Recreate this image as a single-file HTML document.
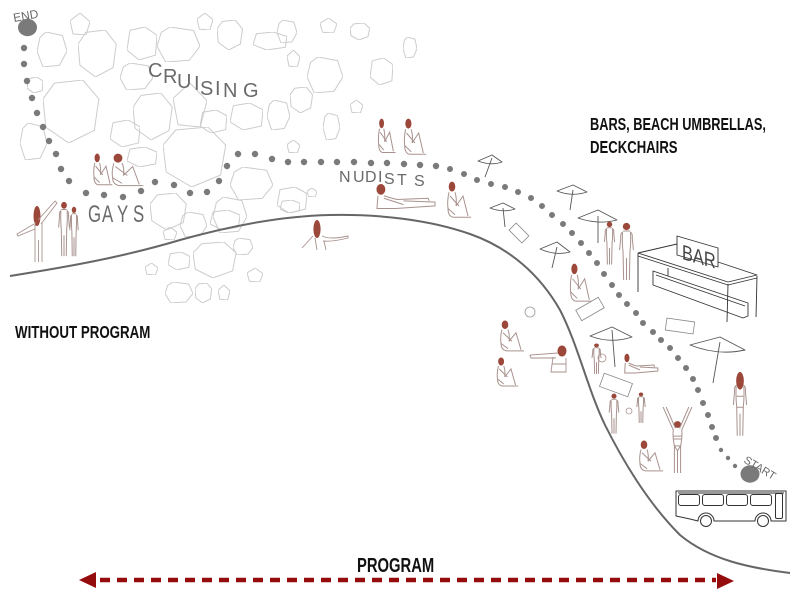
<!DOCTYPE html>
<html><head><meta charset="utf-8"><style>
html,body{margin:0;padding:0;background:#fff;}
svg{display:block;}
</style></head><body>
<svg width="800" height="600" viewBox="0 0 800 600" xmlns="http://www.w3.org/2000/svg">
<defs>
<symbol id="r1" viewBox="0 0 100 100" preserveAspectRatio="none"><path vector-effect="non-scaling-stroke" d="M20 5 L70 0 L98 30 L90 80 L45 100 L5 75 L0 30 Z"/></symbol>
<symbol id="r2" viewBox="0 0 100 100" preserveAspectRatio="none"><path vector-effect="non-scaling-stroke" d="M30 0 L85 10 L100 55 L75 95 L20 100 L0 55 L10 15 Z"/></symbol>
<symbol id="r3" viewBox="0 0 100 100" preserveAspectRatio="none"><path vector-effect="non-scaling-stroke" d="M10 10 L60 0 L100 25 L95 85 L40 100 L0 70 Z"/></symbol>
<symbol id="r4" viewBox="0 0 100 100" preserveAspectRatio="none"><path vector-effect="non-scaling-stroke" d="M50 0 L100 40 L80 100 L15 95 L0 35 Z"/></symbol>
<symbol id="st" viewBox="0 0 20 60" preserveAspectRatio="none">
<ellipse cx="10" cy="4.5" rx="3.2" ry="3.6" fill="#9b4739"/>
<path vector-effect="non-scaling-stroke" fill="none" stroke="#a8928e" d="M7 10 Q4.5 11 5 16 L4 28 M13 10 Q15.5 11 15 16 L16 28 M6.5 11 Q6 20 7 30 L7.5 58 M13.5 11 Q14 20 13 30 L12.5 58 M10 36 L10 58 M7 9 L13 9"/>
</symbol>
<symbol id="stl" viewBox="0 0 20 60" preserveAspectRatio="none">
<ellipse cx="10" cy="8" rx="3.5" ry="8" fill="#9b4739"/>
<path vector-effect="non-scaling-stroke" fill="none" stroke="#a8928e" d="M7 12 Q4.5 13 5 18 L4 30 M13 12 Q15.5 13 15 18 L16 30 M6.5 13 Q6 22 7 32 L7.5 58 M13.5 13 Q14 22 13 32 L12.5 58 M10 38 L10 58 M7 22 L13 22 M7 32 L13 32"/>
</symbol>
<symbol id="sit" viewBox="0 0 30 32" preserveAspectRatio="none">
<ellipse cx="9" cy="4.5" rx="3.3" ry="4" fill="#9b4739"/>
<path vector-effect="non-scaling-stroke" fill="none" stroke="#a8928e" d="M6 9 Q4 16 5 22 Q5 28 10 29 L28 29 M12 9 Q14 14 13 20 M13 20 L20 12 L25 28 M7 12 L16 20 M5 22 L12 27"/>
</symbol>
<symbol id="lie" viewBox="0 0 64 22" preserveAspectRatio="none">
<ellipse cx="7" cy="5" rx="4.5" ry="4.2" fill="#9b4739"/>
<path vector-effect="non-scaling-stroke" fill="none" stroke="#a8928e" d="M4 10 L3 20 L22 20 L62 18 L62 15 L30 14 M10 10 Q18 12 24 13 L55 12 L56 14 M10 12 L30 17"/>
</symbol>
<symbol id="up" viewBox="0 0 34 70" preserveAspectRatio="none">
<ellipse cx="17" cy="18" rx="3.5" ry="3.5" fill="#9b4739"/>
<path vector-effect="non-scaling-stroke" fill="none" stroke="#a8928e" d="M3 0 L13 24 M6 0 L15 22 M31 0 L21 24 M28 0 L19 22 M13 23 Q12 30 14 40 L14 68 M21 23 Q22 30 20 40 L20 68 M17 44 L17 68 M13 30 L21 30 M13 33 L21 33 M14 40 L20 40 L17 45 Z"/>
</symbol>
</defs>

<rect width="800" height="600" fill="#fff"/>

<g fill="none" stroke="#cccccc" stroke-width="1" stroke-linejoin="round">
<use href="#r4" x="70" y="13" width="20" height="22"/>
<use href="#r2" x="37" y="32" width="30" height="35"/>
<use href="#r1" x="78" y="30" width="39" height="47"/>
<use href="#r3" x="127" y="27" width="30" height="33"/>
<use href="#r2" x="157" y="27" width="43" height="35"/>
<use href="#r4" x="197" y="13" width="16" height="17"/>
<use href="#r1" x="217" y="20" width="26" height="30"/>
<use href="#r3" x="253" y="32" width="34" height="18"/>
<use href="#r2" x="277" y="20" width="20" height="23"/>
<use href="#r4" x="320" y="18" width="17" height="15"/>
<use href="#r1" x="350" y="23" width="20" height="17"/>
<use href="#r2" x="403" y="37" width="14" height="21"/>
<use href="#r3" x="370" y="58" width="23" height="27"/>
<use href="#r2" x="307" y="57" width="36" height="36"/>
<use href="#r4" x="287" y="50" width="13" height="17"/>
<use href="#r1" x="290" y="87" width="23" height="26"/>
<use href="#r2" x="267" y="100" width="23" height="30"/>
<use href="#r3" x="230" y="103" width="33" height="27"/>
<use href="#r2" x="323" y="113" width="17" height="27"/>
<use href="#r4" x="350" y="100" width="13" height="13"/>
<use href="#r1" x="43" y="80" width="57" height="63"/>
<use href="#r3" x="27" y="77" width="16" height="16"/>
<use href="#r2" x="20" y="123" width="27" height="37"/>
<use href="#r3" x="110" y="120" width="30" height="27"/>
<use href="#r2" x="120" y="63" width="33" height="27"/>
<use href="#r1" x="133" y="93" width="40" height="47"/>
<use href="#r4" x="173" y="83" width="34" height="44"/>
<use href="#r3" x="200" y="110" width="27" height="23"/>
<use href="#r1" x="163" y="127" width="64" height="60"/>
<use href="#r3" x="127" y="147" width="30" height="20"/>
<use href="#r2" x="230" y="167" width="43" height="33"/>
<use href="#r3" x="277" y="187" width="30" height="26"/>
<use href="#r1" x="150" y="193" width="37" height="37"/>
<use href="#r2" x="213" y="197" width="34" height="36"/>
<use href="#r4" x="287" y="140" width="13" height="13"/>
<use href="#r4" x="307" y="188" width="10" height="9"/>
<use href="#r4" x="163" y="227" width="14" height="13"/>
<use href="#r2" x="180" y="212" width="27" height="25"/>
<use href="#r3" x="210" y="210" width="30" height="20"/>
<use href="#r1" x="193" y="242" width="44" height="36"/>
<use href="#r2" x="233" y="238" width="20" height="17"/>
<use href="#r3" x="168" y="252" width="22" height="18"/>
<use href="#r4" x="145" y="263" width="13" height="12"/>
<use href="#r4" x="247" y="268" width="16" height="14"/>
<use href="#r2" x="165" y="282" width="28" height="21"/>
<use href="#r1" x="195" y="283" width="17" height="20"/>
<use href="#r4" x="218" y="285" width="12" height="15"/>
<use href="#r3" x="280" y="200" width="20" height="13"/>
</g>

<path d="M10 276 C60 268,120 258,180 240 C230 226,280 216,330 215 C380 214,430 220,470 234 C510 248,540 275,560 310 C578 345,588 390,605 425 C625 465,650 505,680 535 C710 560,750 568,790 573" fill="none" stroke="#666" stroke-width="2"/>

<g fill="#7a7a7a">
<ellipse cx="27.5" cy="27.5" rx="9.5" ry="8.7"/>
<ellipse cx="750" cy="474" rx="9.5" ry="8.7"/>
</g>
<path fill="none" stroke="#7a7a7a" stroke-width="6.4" stroke-linecap="round" d="M24 48h0M24 64h0M27 81h0M32 98h0M37 113h0M43 127h0M49 141h0M56 154h0M61 169h0M69 181h0M86 193h0M104 195h0M123 197h0M141 191h0M155 182h0M174 185h0M190 193h0M207 192h0M219 181h0M227 166h0M238 154h0M255 154h0M272 159h0M288 162h0M304 162h0M321 162h0M337 162h0M354 162h0M371 163h0M387 163h0M404 164h0M420 165h0M436 166h0"/>
<path fill="none" stroke="#7a7a7a" stroke-width="6" stroke-linecap="round" d="M450 169h0M464 174h0M477 180h0M491 184h0M505 187h0M518 192h0M531 198h0M542 206h0M552 215h0M563 224h0M572 233h0M581 243h0M589 253h0M597 263h0M604 274h0M612 285h0M619 295h0M627 304h0M636 313h0M643 323h0M653 332h0M661 340h0M670 348h0M678 358h0M686 368h0M693 379h0M698 390h0M703 403h0M708 415h0M712 427h0M716 438h0"/>
<path fill="none" stroke="#7a7a7a" stroke-width="4.4" stroke-linecap="round" d="M721 450h0M728 458h0M735 466h0"/>

<g font-family="'Liberation Sans', sans-serif" fill="#6a6a6a">
<text transform="translate(14,22) rotate(-10)" font-size="12">END</text>
<text transform="translate(743,462) rotate(31)" font-size="11">START</text>
<text font-size="20" x="148 163 177 194 200 215 223 243" y="77 83 88 90 95 95 97 97">CRUISING</text>
<g transform="scale(0.7,1)"><text font-size="24" x="125.7 145.7 167.1 190" y="222 222 222 222">GAYS</text></g>
<text font-size="16" x="339 353 365 378 384 397 414" y="182 182 182 182 184 185 186">NUDISTS</text>
</g>

<g fill="none" stroke="#555" stroke-width="0.9" stroke-linejoin="round">
<path d="M478 161 L492 155 L502 162 Q491 166 478 161 Z M492 158 L485 177"/>
<path d="M557 191 L573 185 L587 192 Q572 197 557 191 Z M573 190 L570 210"/>
<path d="M490 208 L503 203 L515 209 Q503 213 490 208 Z M503 208 L505 227"/>
<path d="M578 218 L598 210 L617 220 Q598 225 578 218 Z M598 216 L598 243"/>
<path d="M540 249 L557 242 L570 252 Q556 256 540 249 Z M557 247 L552 268"/>
<path d="M590 336 L612 327 L632 337 Q611 344 590 336 Z M612 330 L615 367"/>
<path d="M690 345 L720 337 L745 350 Q718 356 690 345 Z M720 342 L713 383"/>
</g>

<g fill="none" stroke="#888" stroke-width="0.8">
<rect x="-9" y="-5" width="18" height="10" transform="translate(519,233) rotate(45)"/>
<rect x="-13" y="-6" width="26" height="12" transform="translate(590,309) rotate(-30)"/>
<rect x="-14" y="-6" width="28" height="12" transform="translate(680,326) rotate(8)"/>
<rect x="-15" y="-7" width="30" height="14" transform="translate(616,385) rotate(20)"/>
</g>

<g fill="none" stroke="#333" stroke-width="0.9" stroke-linejoin="round">
<path d="M638 253 L677 244 M718 262 L757 275 L728 282 L638 253 M638 256 L728 285 L757 278"/>
<path d="M638 253 L638 292 M728 284 L727 322 M757 276 L756 317 M668 268 L668 276"/>
<path d="M677 236 L718 248 L718 267 L677 255 Z"/>
<path d="M653 271 L748 303 L748 316 L743 318 L653 285 Z M656 275 L745 306"/>
</g>
<text transform="translate(682,259) skewY(16) scale(0.78,1)" font-family="'Liberation Sans', sans-serif" font-size="21" fill="#444">BAR</text>

<g fill="none" stroke="#333" stroke-width="1" stroke-linejoin="round">
<path d="M676 491 L786 491 L786 521 L771 521 A8 8 0 0 0 755 521 L714 521 A8 8 0 0 0 698 521 L690 519 L676 516 Z"/>
<path d="M678 493 L784 493"/>
<rect x="678.5" y="494.5" width="21" height="11" rx="2.5"/>
<rect x="702.5" y="494.5" width="21" height="11" rx="2.5"/>
<rect x="726.5" y="494.5" width="21" height="11" rx="2.5"/>
<rect x="750.5" y="494.5" width="21" height="11" rx="2.5"/>
<rect x="775.5" y="493.5" width="7" height="25" rx="1.5"/>
<circle cx="706" cy="521" r="5.5"/>
<circle cx="763" cy="521" r="5.5"/>
</g>

<g>
<ellipse cx="37" cy="216" rx="3.5" ry="10" fill="#9b4739"/>
<path d="M35 222 L35 262 M42 223 L42 262 M38.5 240 L38.5 262 M41 224 L57 203 L55 201 L38 220 M34 224 L17 234 L18 236 L35 229" fill="none" stroke="#a8928e" stroke-width="0.9"/>
<use href="#st" x="55" y="201" width="18" height="57"/>
<use href="#st" x="67" y="206" width="14" height="52"/>
<use href="#sit" x="90" y="153" width="24" height="35"/>
<use href="#sit" x="106" y="153" width="40" height="36"/>
<use href="#sit" x="375" y="118" width="22" height="38"/>
<use href="#sit" x="400" y="118" width="28" height="40"/>
<use href="#lie" x="374" y="183" width="63" height="28"/>
<use href="#sit" x="443" y="181" width="30" height="40"/>
<ellipse cx="317" cy="229" rx="3.6" ry="9" fill="#9b4739"/>
<path d="M313 236 L302 248 M322 236 Q330 240 348 236 L348 238 Q332 242 323 241 M315 238 L317 250 M324 241 L326 250" fill="none" stroke="#a8928e" stroke-width="0.9"/>
<use href="#st" x="601" y="221" width="17" height="45"/>
<use href="#st" x="615" y="222" width="23" height="60"/>
<use href="#sit" x="566" y="263" width="28" height="42"/>
<circle cx="530" cy="312" r="5" fill="none" stroke="#999" stroke-width="0.8"/>
<use href="#sit" x="496" y="320" width="30" height="34"/>
<use href="#sit" x="493" y="357" width="27" height="32"/>
<ellipse cx="562" cy="351" rx="4.5" ry="5.5" fill="#9b4739"/>
<path d="M558 353 L530 355 L531 358 L556 358 M553 357 L551 372 L566 372 L566 358 M552 364 L566 364" fill="none" stroke="#a8928e" stroke-width="0.9"/>
<use href="#st" x="589" y="343" width="15" height="32"/>
<circle cx="602" cy="358" r="4" fill="none" stroke="#a8928e" stroke-width="0.8"/>
<use href="#lie" x="623" y="353" width="36" height="22"/>
<use href="#st" x="606" y="393" width="16" height="42"/>
<use href="#st" x="634" y="392" width="14" height="32"/>
<circle cx="629" cy="411" r="3" fill="none" stroke="#a8928e" stroke-width="0.8"/>
<use href="#sit" x="635" y="440" width="30" height="34"/>
<use href="#up" x="660" y="407" width="35" height="68"/>
<use href="#stl" x="729" y="372" width="22" height="66"/>
</g>

<g font-family="'Liberation Sans', Arial, sans-serif" font-weight="bold" fill="#111">
<text transform="translate(15,338) scale(0.74,1)" font-size="18">WITHOUT PROGRAM</text>
<text transform="translate(590,130) scale(0.71,1)" font-size="18">BARS, BEACH UMBRELLAS,</text>
<text transform="translate(590,153) scale(0.73,1)" font-size="18">DECKCHAIRS</text>
<text transform="translate(357,572) scale(0.74,1)" font-size="20">PROGRAM</text>
</g>

<g fill="#940c0c">
<line x1="100" y1="580" x2="716" y2="580" stroke="#940c0c" stroke-width="4.5" stroke-dasharray="10 7"/>
<polygon points="79,580 96,572 96,588"/>
<polygon points="734,581 717,573 717,589"/>
</g>
</svg>
</body></html>
